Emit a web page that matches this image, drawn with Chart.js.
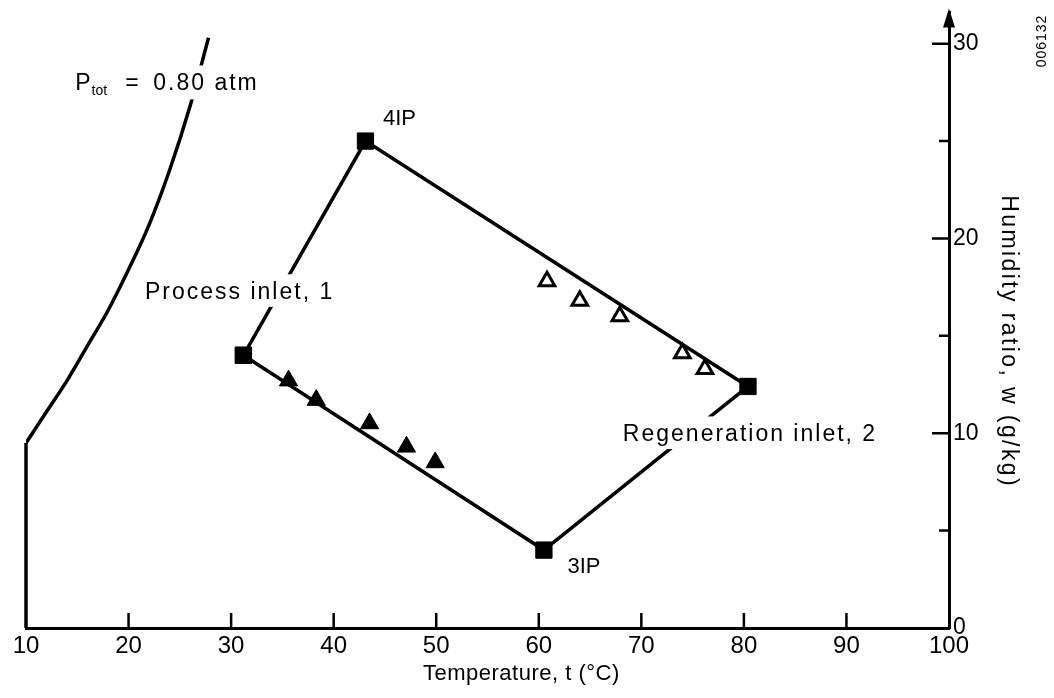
<!DOCTYPE html>
<html>
<head>
<meta charset="utf-8">
<title>Humidity ratio vs temperature</title>
<script src="https://cdn.jsdelivr.net/npm/chart.js@4.4.0/dist/chart.umd.min.js"></script>
<style>
    html, body { margin: 0; padding: 0; background: #fff; }
    canvas { display: block; }
</style>
</head>
<body>
<canvas id="myChart" width="1054" height="698"></canvas>
<script>
// corner states of the cycle (temperature °C, humidity ratio g/kg)
const cornerNames = ['Process inlet, 1', '4IP', 'Regeneration inlet, 2', '3IP'];
const cornerTemp = [31.2, 43.1, 80.4, 60.5];
const cornerHum = [14.0, 25.0, 12.4, 4.0];

// measured points, process side (filled) and regeneration side (open)
const processTemp = [35.6, 38.3, 43.5, 47.1, 49.9];
const processHum = [12.7, 11.7, 10.5, 9.3, 8.5];
const regenTemp = [60.8, 64.0, 67.9, 74.0, 76.2];
const regenHum = [17.8, 16.8, 16.0, 14.1, 13.3];

// saturation line at Ptot = 0.80 atm
const satTemp = [10, 12, 14, 16, 18, 20, 22, 24, 26, 27.8];
const satHum = [9.5, 11.1, 12.7, 14.5, 16.3, 18.4, 20.7, 23.5, 26.8, 30.3];
const satBaseTemp = [10, 10];
const satBaseHum = [0, 9.5];

const xTicks = [10, 20, 30, 40, 50, 60, 70, 80, 90, 100];
const yMajorTicks = [0, 10, 20, 30];
const yMinorTicks = [5, 15, 25];

const FONT = '"Liberation Sans", Arial, Helvetica, sans-serif';

function pts(xs, ys) {
    return xs.map((x, i) => ({ x: x, y: ys[i] }));
}

var loop = pts(cornerTemp, cornerHum);
loop.push(loop[0]);

// text notes, placed in data units
const notes = [
    { text: cornerNames[1], t: 44.8, w: 25.8, size: 22, spacing: 0, bg: false },
    { text: cornerNames[0], t: 21.6, w: 16.9, size: 23, spacing: 2, bg: true },
    { text: cornerNames[2], t: 68.2, w: 9.6, size: 23, spacing: 2, bg: true },
    { text: cornerNames[3], t: 62.8, w: 2.8, size: 22, spacing: 0, bg: false }
];

function setFont(ctx, size, spacing) {
    ctx.font = size + 'px ' + FONT;
    ctx.letterSpacing = (spacing || 0) + 'px';
}

function textBox(ctx, str, x, y, size, spacing, bg) {
    setFont(ctx, size, spacing);
    var w = ctx.measureText(str).width;
    if (bg) {
        ctx.fillStyle = '#fff';
        ctx.fillRect(x - 4, y - size * 0.72 - 8, w + 8, size * 0.72 + 16);
    }
    ctx.fillStyle = '#000';
    ctx.fillText(str, x, y);
    return w;
}

const decor = {
    id: 'decor',
    afterDatasetsDraw(chart) {
        var ctx = chart.ctx, xs = chart.scales.x, ys = chart.scales.y;
        ctx.save();
        ctx.textBaseline = 'alphabetic';
        ctx.textAlign = 'left';
        notes.forEach(n => {
            textBox(ctx, n.text, xs.getPixelForValue(n.t), ys.getPixelForValue(n.w), n.size, n.spacing, n.bg);
        });

        // P_tot label on the saturation line
        var px = xs.getPixelForValue(14.8), py = ys.getPixelForValue(27.6);
        setFont(ctx, 23, 2);
        var rest = '0.80 atm';
        var restX = px + 78;
        var rw = ctx.measureText(rest).width;
        ctx.fillStyle = '#fff';
        ctx.fillRect(restX - 4, py - 25, rw + 8, 34);
        ctx.fillStyle = '#000';
        var w = textBox(ctx, 'P', px, py, 23, 0, false);
        textBox(ctx, 'tot', px + w + 1, py + 5, 14, 0, false);
        textBox(ctx, '=', px + 50, py, 23, 0, false);
        textBox(ctx, rest, restX, py, 23, 2, false);
        ctx.restore();
    },
    afterDraw(chart) {
        var ctx = chart.ctx, xs = chart.scales.x, ys = chart.scales.y;
        var area = chart.chartArea;
        ctx.save();
        ctx.strokeStyle = '#000';
        ctx.fillStyle = '#000';

        // inward tick marks
        ctx.lineWidth = 2.5;
        ctx.beginPath();
        xTicks.slice(1, -1).forEach(v => {
            var x = xs.getPixelForValue(v);
            ctx.moveTo(x, area.bottom);
            ctx.lineTo(x, area.bottom - 15);
        });
        yMajorTicks.slice(1).forEach(v => {
            var y = ys.getPixelForValue(v);
            ctx.moveTo(area.right, y);
            ctx.lineTo(area.right - 17, y);
        });
        yMinorTicks.forEach(v => {
            var y = ys.getPixelForValue(v);
            ctx.moveTo(area.right, y);
            ctx.lineTo(area.right - 10, y);
        });
        ctx.stroke();

        // arrow head on the humidity axis
        var ax = area.right;
        ctx.beginPath();
        ctx.moveTo(ax, area.top - 4);
        ctx.lineTo(ax - 6, area.top + 15);
        ctx.lineTo(ax + 6, area.top + 15);
        ctx.closePath();
        ctx.fill();

        // axis titles
        ctx.textAlign = 'center';
        ctx.textBaseline = 'middle';
        setFont(ctx, 22, 0.5);
        ctx.fillText('Temperature, t (°C)', xs.getPixelForValue(58.3), area.bottom + 46);

        ctx.save();
        ctx.translate(area.right + 59, ys.getPixelForValue(14.7));
        ctx.rotate(Math.PI / 2);
        setFont(ctx, 23, 2.4);
        ctx.fillText('Humidity ratio, w (g/kg)', 0, 0);
        ctx.restore();

        ctx.save();
        ctx.translate(area.right + 93, 41);
        ctx.rotate(-Math.PI / 2);
        setFont(ctx, 14, 1);
        ctx.fillText('006132', 0, 0);
        ctx.restore();

        ctx.restore();
    }
};

const ctx = document.getElementById('myChart').getContext('2d');
const chart = new Chart(ctx, {
    type: 'scatter',
    data: {
        datasets: [
            {
                data: pts(regenTemp, regenHum),
                pointStyle: 'triangle',
                pointRadius: 9,
                backgroundColor: '#fff',
                borderColor: '#000',
                borderWidth: 3
            },
            {
                data: pts(processTemp, processHum),
                pointStyle: 'triangle',
                pointRadius: 10.5,
                backgroundColor: '#000',
                borderColor: '#000',
                borderWidth: 1
            },
            {
                data: loop,
                showLine: true,
                borderColor: '#000',
                borderWidth: 3.5,
                pointStyle: 'rect',
                pointRadius: 11.5,
                pointBackgroundColor: '#000',
                pointBorderColor: '#000',
                pointBorderWidth: 1
            },
            {
                data: pts(satTemp, satHum),
                showLine: true,
                cubicInterpolationMode: 'monotone',
                borderColor: '#000',
                borderWidth: 3.5,
                pointRadius: 0
            },
            {
                data: pts(satBaseTemp, satBaseHum),
                showLine: true,
                borderColor: '#000',
                borderWidth: 3.5,
                pointRadius: 0,
                clip: false
            }
        ]
    },
    options: {
        responsive: false,
        animation: false,
        events: [],
        layout: { padding: { left: 26, top: 10, right: 0, bottom: 0 } },
        plugins: {
            legend: { display: false },
            tooltip: { enabled: false }
        },
        scales: {
            x: {
                type: 'linear',
                min: 10,
                max: 100,
                afterBuildTicks: scale => { scale.ticks = xTicks.map(v => ({ value: v })); },
                afterFit: scale => { scale.height = 70; },
                ticks: {
                    color: '#000',
                    padding: 4,
                    maxRotation: 0,
                    font: { family: FONT, size: 24 }
                },
                grid: { drawOnChartArea: false, drawTicks: false },
                border: { display: true, color: '#000', width: 3 }
            },
            y: {
                type: 'linear',
                position: 'right',
                min: 0,
                max: 31.6,
                afterBuildTicks: scale => {
                    scale.ticks = yMajorTicks.concat(yMinorTicks).sort((a, b) => a - b).map(v => ({ value: v }));
                },
                afterFit: scale => {
                    scale.width = 105;
                    scale.paddingTop = 0;
                    scale.paddingBottom = 0;
                },
                ticks: {
                    color: '#000',
                    padding: 4,
                    font: { family: FONT, size: 23 },
                    callback: v => (yMajorTicks.indexOf(v) >= 0 ? v : '')
                },
                grid: { drawOnChartArea: false, drawTicks: false },
                border: { display: true, color: '#000', width: 3 }
            }
        }
    },
    plugins: [decor]
});
</script>
</body>
</html>
